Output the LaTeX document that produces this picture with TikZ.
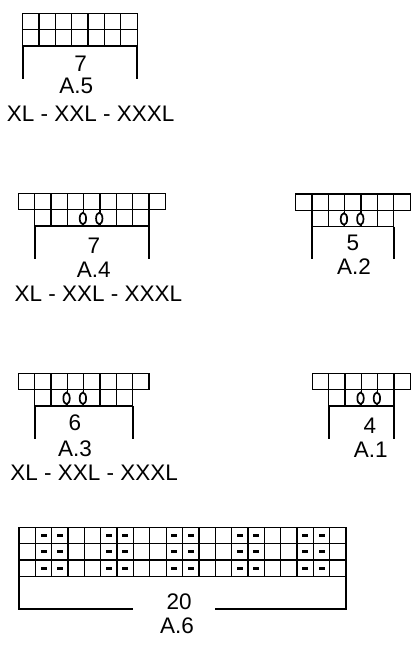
\documentclass[tikz,border=0pt]{standalone}
\usepackage{fontspec}
\setmainfont{Liberation Sans}
\begin{document}
\begin{tikzpicture}[
    x = 1pt, y = -1pt,
    cell/.style={draw, line width=1.3pt},
    bracket/.style={line width=1.8pt},
    yo/.style={draw, fill=white, line width=1.7pt},
    purl/.style={fill=black},
    lbl/.style={inner sep=0pt, font=\fontsize{22.5}{25}\selectfont}
]
\useasboundingbox (0,0) rectangle (419,650);

% Chart A.5
\foreach \i in {0,...,6}
  \foreach \j in {0,1}
    \draw[cell] (22.7+\i*16.35, 13.3+\j*16.35) rectangle ++(16.35,16.35);
\draw[bracket] (22.7,45.7) -- (22.7,78.7);
\draw[bracket] (137.15,45.7) -- (137.15,78.7);
\node[lbl] (a5n) at (80.7,63.8) {7};
\node[lbl] (a5) at (76.3,85.8) {A.5};
\node[lbl] (a5s) at (90.7,113.3) {XL - XXL - XXXL};

% Chart A.4
\foreach \i in {0,...,8}
  \draw[cell] (18.3+\i*16.35, 193.3) rectangle ++(16.35,16.35);
\foreach \i in {0,...,6}
  \draw[cell] (34.65+\i*16.35, 209.65) rectangle ++(16.35,16.35);
\foreach \i in {3,4}
  \draw[yo] (34.65+\i*16.35-0.8, 218.5) ellipse [x radius=3.2pt, y radius=5.8pt];
\draw[bracket] (34.65,226) -- (34.65,258.7);
\draw[bracket] (149.1,226) -- (149.1,258.7);
\node[lbl] (a4n) at (94,245.8) {7};
\node[lbl] (a4) at (93.7,270) {A.4};
\node[lbl] (a4s) at (98.3,293.8) {XL - XXL - XXXL};

% Chart A.2
\foreach \i in {0,...,6}
  \draw[cell] (295.7+\i*16.35, 194) rectangle ++(16.35,16.35);
\foreach \i in {0,...,4}
  \draw[cell] (312.05+\i*16.35, 210.35) rectangle ++(16.35,16.35);
\foreach \i in {2,3}
  \draw[yo] (312.05+\i*16.35-0.8, 219) ellipse [x radius=3.2pt, y radius=5.8pt];
\draw[bracket] (312.05,226.7) -- (312.05,259);
\draw[bracket] (393.8,226.7) -- (393.8,259);
\node[lbl] (a2n) at (353,242.5) {5};
\node[lbl] (a2) at (354,266.3) {A.2};

% Chart A.3
\foreach \i in {0,...,7}
  \draw[cell] (18.3+\i*16.35, 373.3) rectangle ++(16.35,16.35);
\foreach \i in {0,...,5}
  \draw[cell] (34.65+\i*16.35, 389.65) rectangle ++(16.35,16.35);
\foreach \i in {2,3}
  \draw[yo] (34.65+\i*16.35-0.8, 398.3) ellipse [x radius=3.2pt, y radius=5.8pt];
\draw[bracket] (34.65,406) -- (34.65,438.7);
\draw[bracket] (132.75,406) -- (132.75,438.7);
\node[lbl] (a3n) at (75,422.8) {6};
\node[lbl] (a3) at (75,449.2) {A.3};
\node[lbl] (a3s) at (94.2,472.5) {XL - XXL - XXXL};

% Chart A.1
\foreach \i in {0,...,5}
  \draw[cell] (312.3+\i*16.35, 373.3) rectangle ++(16.35,16.35);
\foreach \i in {0,...,3}
  \draw[cell] (328.65+\i*16.35, 389.65) rectangle ++(16.35,16.35);
\foreach \i in {2,3}
  \draw[yo] (328.65+\i*16.35-0.8, 398.3) ellipse [x radius=3.2pt, y radius=5.8pt];
\draw[bracket] (328.65,406) -- (328.65,438.7);
\draw[bracket] (394.05,406) -- (394.05,438.7);
\node[lbl] (a1n) at (370,426.2) {4};
\node[lbl] (a1) at (370.8,450) {A.1};

% Chart A.6
\foreach \i in {0,...,19}
  \foreach \j in {0,1,2}
    \draw[cell] (19+\i*16.35, 527.3+\j*16.35) rectangle ++(16.35,16.35);
\foreach \i in {1,5,9,13,17}
  \foreach \k in {0,1}
    \foreach \j in {0,1,2}
      \fill[purl] (19+\i*16.35+\k*16.35+5.2, 527.3+\j*16.35+6.8) rectangle ++(6,2.8);
\draw[bracket] (19,576.35) -- (19,609) -- (133.3,609);
\draw[bracket] (215,609) -- (346,609) -- (346,576.35);
\node[lbl] (a6n) at (179.2,601.5) {20};
\node[lbl] (a6) at (177,626.2) {A.6};

\end{tikzpicture}
\end{document}
